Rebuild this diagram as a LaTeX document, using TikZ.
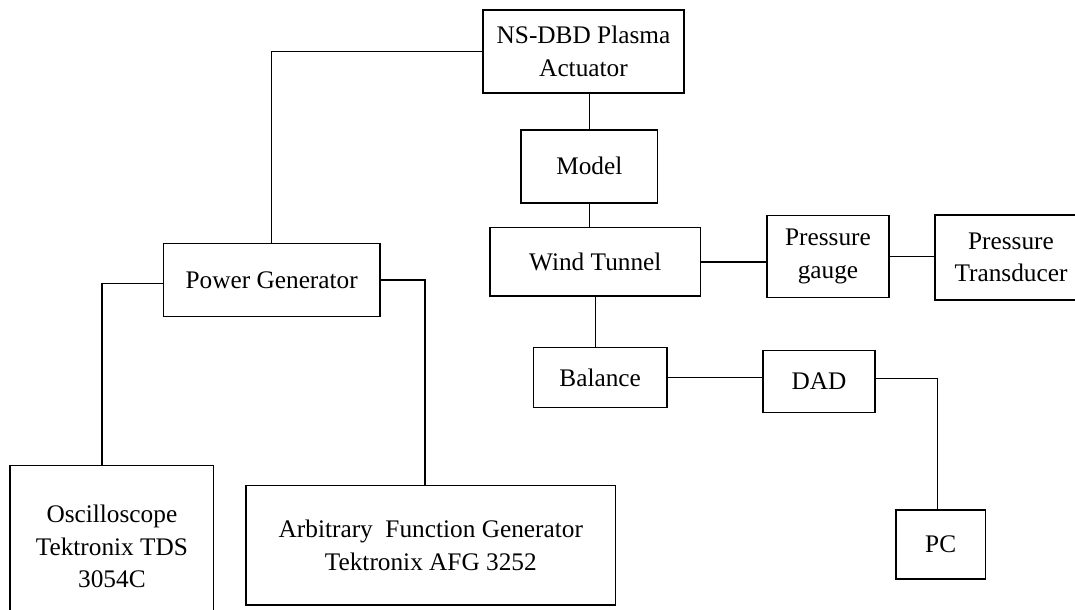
\documentclass[tikz,border=0pt]{standalone}
\usepackage{fontspec}
\setmainfont{Liberation Serif}
\usepackage{tikz}

\begin{document}
\begin{tikzpicture}[x=0.02cm, y=-0.02cm,
    blk/.style={draw, line width=0.8pt, align=center, inner sep=2pt,
        font=\fontsize{14.4}{18.5}\selectfont},
    wire/.style={line width=0.8pt}]
    \useasboundingbox (0,0) rectangle (1075,609);

    % test section side
    \node[blk, minimum width=4.02cm, minimum height=1.66cm] (act) at (583.5,51.5) {NS-DBD Plasma\\Actuator};
    \node[blk, minimum width=2.74cm, minimum height=1.46cm] (model) at (589.3,166.3) {Model};
    \node[blk, minimum width=4.21cm, minimum height=1.37cm] (tunnel) at (595.3,261.9) {Wind Tunnel};
    \node[blk, minimum width=2.44cm, minimum height=1.63cm] (gauge) at (828,256.5) {Pressure\\gauge};
    \node[blk, minimum width=3.04cm, minimum height=1.70cm] (trans) at (1011,257.5) {Pressure\\Transducer};
    \node[blk, minimum width=2.67cm, minimum height=1.21cm] (balance) at (600.2,377.5) {Balance};
    \node[blk, minimum width=2.24cm, minimum height=1.24cm] (dad) at (819,381.3) {DAD};
    \node[blk, minimum width=1.79cm, minimum height=1.38cm] (pc) at (940.7,544.5) {PC};

    % supply side
    \node[blk, minimum width=4.33cm, minimum height=1.46cm] (power) at (271.7,279.8) {Power Generator};
    \node[blk, minimum width=4.07cm, minimum height=3.25cm] (osc) at (111.9,546.7) {Oscilloscope\\Tektronix TDS\\3054C};
    \node[blk, minimum width=7.39cm, minimum height=2.39cm] (arb) at (430.8,545.2) {Arbitrary\ \ Function Generator\\Tektronix AFG 3252};

    \draw[wire] (power.north) |- (act.west);
    \draw[wire] ([yshift=-0.07cm]power.west) -| ([xshift=-0.2cm]osc.north);
    \draw[wire] (power.east) -| ([xshift=-0.12cm]arb.north);

    \draw[wire] (act.south -| model.north) -- (model.north);
    \draw[wire] (model.south) -- (model.south |- tunnel.north);
    \draw[wire] (tunnel.south) -- (tunnel.south |- balance.north);
    \draw[wire] (tunnel.east) -- (tunnel.east -| gauge.west);
    \draw[wire] (gauge.east) -- (gauge.east -| trans.west);
    \draw[wire] (balance.east) -- (balance.east -| dad.west);
    \draw[wire] ([yshift=0.06cm]dad.east) -| ([xshift=-0.07cm]pc.north);
\end{tikzpicture}
\end{document}
